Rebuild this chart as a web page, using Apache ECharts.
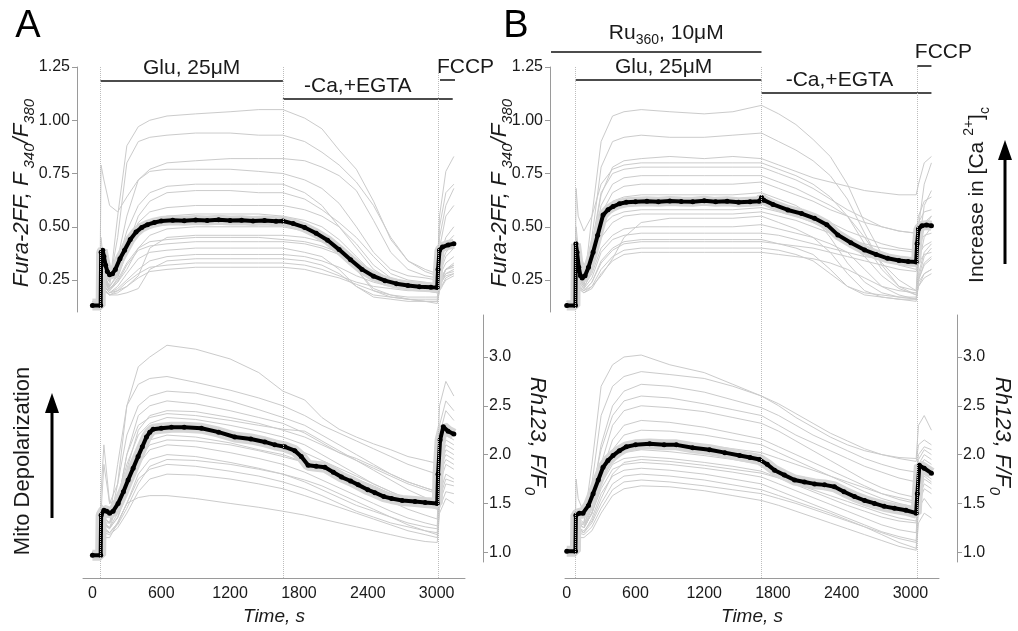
<!DOCTYPE html>
<html><head><meta charset="utf-8">
<script src="https://cdn.jsdelivr.net/npm/echarts@6/dist/echarts.min.js"></script>
<style>html,body{margin:0;padding:0;background:#fff}#c{width:1018px;height:631px}</style>
</head><body><div id="c"></div>
<script>
// ---------------- DATA ----------------
const xTicks = [0, 600, 1200, 1800, 2400, 3000];
const furaTicks = [0.25, 0.5, 0.75, 1.0, 1.25];
const rhTicks = [1.0, 1.5, 2.0, 2.5, 3.0];

// event times (s)
const eventsA = [70, 1660, 3014];
const eventsB = [78, 1700, 3060];

// time points for individual cell traces
const timeCellsA = [0,65,75,100,150, 220,300,400,500,650, 900,1200,1450,1660,1850, 2000,2150,2300,2450,2600, 2750,2900,3005,3025,3080, 3150];
const timeCellsB = [0,72,82,100,150, 220,300,400,500,650, 900,1200,1450,1700,1850, 2000,2150,2300,2450,2600, 2750,2900,3050,3070,3120, 3183];

// Panel A, Fura-2FF individual cells
const furaCellsA = [
 [0.14,0.14,0.30,0.26,0.22, 0.55,0.88,0.97,1.00,1.02, 1.03,1.04,1.05,1.05,1.01, 0.96,0.86,0.77,0.62,0.44, 0.34,0.30,0.28,0.55,0.76, 0.83],
 [0.15,0.15,0.35,0.28,0.24, 0.45,0.80,0.90,0.92,0.93, 0.94,0.94,0.93,0.93,0.90, 0.85,0.79,0.71,0.60,0.45, 0.34,0.29,0.27,0.50,0.66, 0.70],
 [0.14,0.14,0.32,0.27,0.25, 0.35,0.55,0.72,0.77,0.80, 0.81,0.82,0.82,0.82,0.81, 0.78,0.74,0.67,0.53,0.38, 0.30,0.27,0.26,0.45,0.60, 0.68],
 [0.16,0.16,0.79,0.72,0.60, 0.57,0.64,0.72,0.76,0.77, 0.77,0.77,0.76,0.75,0.72, 0.68,0.61,0.50,0.38,0.30, 0.27,0.26,0.25,0.40,0.55, 0.60],
 [0.14,0.14,0.40,0.30,0.25, 0.33,0.48,0.60,0.66,0.69, 0.70,0.70,0.70,0.70,0.66, 0.60,0.50,0.40,0.30,0.25, 0.23,0.22,0.22,0.35,0.45, 0.50],
 [0.15,0.15,0.45,0.32,0.26, 0.30,0.40,0.55,0.62,0.66, 0.67,0.67,0.66,0.66,0.63, 0.58,0.52,0.45,0.36,0.28, 0.25,0.24,0.23,0.32,0.42, 0.46],
 [0.14,0.14,0.38,0.28,0.22, 0.28,0.40,0.52,0.57,0.59, 0.60,0.60,0.60,0.60,0.58, 0.55,0.50,0.42,0.32,0.26, 0.24,0.23,0.22,0.30,0.38, 0.42],
 [0.13,0.13,0.30,0.25,0.20, 0.26,0.38,0.48,0.53,0.55, 0.56,0.56,0.56,0.55,0.53, 0.50,0.44,0.36,0.28,0.24, 0.23,0.22,0.21,0.28,0.36, 0.40],
 [0.14,0.14,0.33,0.26,0.21, 0.24,0.30,0.40,0.46,0.49, 0.50,0.50,0.50,0.50,0.48, 0.45,0.40,0.34,0.28,0.25, 0.24,0.23,0.22,0.27,0.33, 0.36],
 [0.15,0.15,0.25,0.22,0.19, 0.20,0.22,0.27,0.40,0.45, 0.46,0.46,0.46,0.46,0.45, 0.43,0.40,0.30,0.20,0.17, 0.16,0.16,0.16,0.22,0.30, 0.32],
 [0.13,0.13,0.28,0.24,0.20, 0.24,0.32,0.39,0.41,0.42, 0.43,0.43,0.43,0.43,0.42, 0.40,0.37,0.32,0.27,0.24, 0.22,0.21,0.20,0.25,0.30, 0.32],
 [0.14,0.14,0.30,0.23,0.19, 0.22,0.28,0.35,0.38,0.39, 0.40,0.40,0.40,0.40,0.38, 0.36,0.30,0.22,0.17,0.16, 0.15,0.15,0.15,0.22,0.28, 0.30],
 [0.13,0.13,0.26,0.22,0.19, 0.21,0.25,0.30,0.34,0.36, 0.37,0.37,0.37,0.37,0.36, 0.34,0.31,0.27,0.24,0.22, 0.21,0.21,0.20,0.24,0.28, 0.29],
 [0.15,0.15,0.22,0.20,0.18, 0.18,0.19,0.21,0.30,0.34, 0.35,0.35,0.35,0.35,0.34, 0.32,0.28,0.22,0.18,0.17, 0.16,0.15,0.15,0.20,0.26, 0.28],
 [0.13,0.13,0.25,0.21,0.18, 0.20,0.24,0.28,0.31,0.32, 0.33,0.33,0.33,0.33,0.32, 0.30,0.27,0.24,0.22,0.21, 0.20,0.20,0.19,0.23,0.27, 0.28],
 [0.14,0.14,0.24,0.20,0.18, 0.19,0.22,0.26,0.29,0.30, 0.31,0.31,0.31,0.31,0.30, 0.28,0.26,0.23,0.20,0.18, 0.16,0.15,0.14,0.20,0.25, 0.27],
 [0.14,0.14,0.36,0.27,0.22, 0.27,0.38,0.47,0.50,0.51, 0.52,0.52,0.52,0.52,0.50, 0.47,0.41,0.30,0.21,0.18, 0.17,0.17,0.17,0.24,0.30, 0.33],
 [0.14,0.14,0.30,0.25,0.21, 0.25,0.33,0.40,0.43,0.44, 0.45,0.45,0.45,0.44,0.43, 0.41,0.38,0.33,0.27,0.23, 0.21,0.20,0.19,0.24,0.30, 0.31]
];

// Panel B, Fura-2FF individual cells
const furaCellsB = [
 [0.14,0.14,0.30,0.26,0.22, 0.55,0.90,1.02,1.04,1.05, 1.04,1.03,1.04,1.07,1.03, 0.98,0.91,0.83,0.70,0.52, 0.37,0.32,0.30,0.50,0.70, 0.80],
 [0.15,0.15,0.35,0.28,0.23, 0.45,0.78,0.90,0.92,0.93, 0.92,0.92,0.93,0.94,0.90, 0.86,0.81,0.74,0.63,0.47, 0.32,0.22,0.20,0.40,0.60, 0.67],
 [0.14,0.14,0.40,0.32,0.28, 0.40,0.65,0.78,0.81,0.82, 0.83,0.82,0.83,0.82,0.79, 0.76,0.73,0.71,0.69,0.67, 0.66,0.65,0.65,0.70,0.80, 0.83],
 [0.15,0.15,0.68,0.55,0.48, 0.55,0.70,0.77,0.79,0.80, 0.80,0.80,0.80,0.80,0.77, 0.74,0.70,0.64,0.55,0.42, 0.30,0.22,0.18,0.35,0.50, 0.55],
 [0.14,0.14,0.36,0.28,0.24, 0.42,0.66,0.75,0.77,0.78, 0.78,0.78,0.78,0.78,0.75, 0.72,0.68,0.63,0.58,0.54, 0.50,0.48,0.47,0.55,0.62, 0.64],
 [0.13,0.13,0.33,0.26,0.23, 0.38,0.60,0.70,0.73,0.74, 0.74,0.74,0.74,0.74,0.71, 0.68,0.64,0.60,0.55,0.45, 0.33,0.25,0.20,0.32,0.45, 0.50],
 [0.14,0.14,0.38,0.29,0.24, 0.36,0.56,0.66,0.69,0.70, 0.70,0.70,0.70,0.71,0.68, 0.65,0.62,0.58,0.55,0.52, 0.50,0.48,0.47,0.52,0.57, 0.58],
 [0.14,0.14,0.50,0.40,0.32, 0.38,0.50,0.55,0.57,0.58, 0.58,0.58,0.58,0.59,0.57, 0.55,0.52,0.48,0.43,0.36, 0.27,0.21,0.18,0.28,0.38, 0.42],
 [0.13,0.13,0.30,0.25,0.21, 0.30,0.45,0.52,0.55,0.56, 0.56,0.56,0.56,0.57,0.55, 0.53,0.50,0.47,0.44,0.42, 0.40,0.39,0.38,0.42,0.46, 0.47],
 [0.15,0.15,0.25,0.22,0.20, 0.22,0.27,0.35,0.45,0.52, 0.54,0.54,0.54,0.55,0.52, 0.49,0.45,0.38,0.28,0.20, 0.17,0.16,0.15,0.25,0.33, 0.36],
 [0.14,0.14,0.32,0.26,0.22, 0.28,0.40,0.46,0.49,0.50, 0.50,0.50,0.50,0.51,0.49, 0.47,0.45,0.42,0.38,0.30, 0.22,0.18,0.16,0.25,0.32, 0.35],
 [0.13,0.13,0.30,0.24,0.21, 0.26,0.38,0.44,0.46,0.47, 0.47,0.47,0.47,0.47,0.46, 0.44,0.42,0.40,0.38,0.36, 0.35,0.34,0.33,0.37,0.41, 0.43],
 [0.14,0.14,0.28,0.23,0.20, 0.24,0.34,0.40,0.43,0.44, 0.44,0.44,0.44,0.44,0.42, 0.40,0.37,0.30,0.22,0.18, 0.17,0.16,0.16,0.22,0.28, 0.30],
 [0.13,0.13,0.27,0.22,0.20, 0.24,0.33,0.39,0.42,0.43, 0.43,0.43,0.43,0.43,0.42, 0.41,0.40,0.38,0.36,0.34, 0.32,0.30,0.29,0.33,0.37, 0.38],
 [0.14,0.14,0.26,0.22,0.19, 0.22,0.30,0.36,0.39,0.40, 0.40,0.40,0.40,0.40,0.39, 0.37,0.34,0.28,0.22,0.19, 0.18,0.17,0.17,0.22,0.26, 0.28],
 [0.13,0.13,0.25,0.21,0.19, 0.21,0.28,0.34,0.37,0.38, 0.38,0.38,0.38,0.38,0.37, 0.36,0.35,0.33,0.30,0.26, 0.22,0.20,0.19,0.24,0.28, 0.30],
 [0.14,0.14,0.34,0.27,0.23, 0.33,0.52,0.59,0.61,0.62, 0.62,0.62,0.62,0.63,0.60, 0.58,0.55,0.52,0.48,0.45, 0.42,0.40,0.39,0.45,0.52, 0.55],
 [0.14,0.14,0.45,0.36,0.29, 0.36,0.55,0.62,0.64,0.65, 0.65,0.65,0.65,0.66,0.63, 0.60,0.55,0.45,0.33,0.24, 0.19,0.17,0.16,0.26,0.36, 0.40]
];

// Panel A, Rh123 individual cells
const rhCellsA = [
 [1.00,1.00,1.30,1.35,1.30, 1.70,2.50,2.90,3.00,3.12, 3.08,2.98,2.84,2.65,2.56, 2.38,2.26,2.18,2.11,2.05, 1.98,1.94,1.91,2.50,2.75, 2.60],
 [1.00,1.00,1.50,1.45,1.35, 1.90,2.50,2.72,2.78,2.80, 2.74,2.66,2.58,2.50,2.40, 2.30,2.22,2.14,2.06,1.98, 1.90,1.84,1.80,2.30,2.55, 2.45],
 [1.00,1.00,1.60,2.10,1.50, 1.70,2.20,2.50,2.60,2.65, 2.63,2.55,2.46,2.38,2.30, 2.20,2.10,2.00,1.90,1.80, 1.72,1.66,1.62,2.20,2.45, 2.35],
 [1.00,1.00,1.30,1.30,1.25, 1.50,2.00,2.40,2.50,2.55, 2.52,2.45,2.38,2.32,2.22, 2.12,2.02,1.94,1.86,1.78, 1.70,1.64,1.60,2.10,2.30, 2.25],
 [1.00,1.00,1.35,1.35,1.30, 1.45,1.85,2.25,2.40,2.45, 2.44,2.38,2.32,2.25,2.18, 2.10,2.02,1.96,1.88,1.80, 1.72,1.66,1.62,2.00,2.20, 2.15],
 [1.00,1.00,1.40,1.90,1.50, 1.55,1.90,2.20,2.32,2.38, 2.36,2.30,2.24,2.18,2.10, 2.00,1.90,1.80,1.70,1.62, 1.55,1.50,1.46,1.90,2.10, 2.05],
 [1.00,1.00,1.30,1.30,1.25, 1.40,1.75,2.10,2.25,2.30, 2.28,2.22,2.16,2.10,2.02, 1.94,1.86,1.78,1.70,1.62, 1.54,1.48,1.44,1.85,2.05, 2.00],
 [1.00,1.00,1.30,1.35,1.30, 1.45,1.80,2.05,2.15,2.20, 2.18,2.12,2.05,2.00,1.92, 1.84,1.76,1.68,1.60,1.52, 1.44,1.38,1.34,1.80,1.95, 1.90],
 [1.00,1.00,1.30,1.30,1.25, 1.35,1.60,1.90,2.05,2.10, 2.08,2.02,1.96,1.90,1.82, 1.74,1.66,1.58,1.50,1.42, 1.35,1.30,1.27,1.70,1.90, 1.85],
 [1.00,1.00,1.25,1.25,1.20, 1.30,1.50,1.80,1.95,2.00, 1.98,1.92,1.86,1.80,1.72, 1.64,1.56,1.48,1.42,1.36, 1.30,1.26,1.24,1.60,1.80, 1.75],
 [1.00,1.00,1.25,1.25,1.20, 1.30,1.50,1.75,1.85,1.90, 1.88,1.83,1.78,1.72,1.65, 1.58,1.50,1.42,1.36,1.30, 1.26,1.22,1.20,1.50,1.70, 1.68],
 [1.00,1.00,1.20,1.20,1.18, 1.25,1.40,1.62,1.75,1.80, 1.79,1.75,1.70,1.65,1.58, 1.52,1.46,1.40,1.34,1.28, 1.22,1.18,1.15,1.45,1.62, 1.60],
 [1.00,1.00,1.15,1.15,1.15, 1.30,1.50,1.56,1.58,1.58, 1.55,1.50,1.46,1.42,1.38, 1.34,1.30,1.26,1.22,1.18, 1.14,1.11,1.10,1.40,1.55, 1.50],
 [1.00,1.00,1.30,1.30,1.30, 1.50,2.00,2.30,2.38,2.42, 2.40,2.35,2.30,2.26,2.24, 2.14,2.04,1.94,1.84,1.74, 1.64,1.56,1.50,1.95,2.15, 2.10],
 [1.00,1.00,1.28,1.28,1.24, 1.36,1.65,1.95,2.10,2.15, 2.14,2.10,2.04,1.98,1.92, 1.88,1.82,1.75,1.68,1.60, 1.53,1.48,1.45,1.85,2.00, 1.95],
 [1.00,1.00,1.22,1.22,1.20, 1.28,1.45,1.70,1.88,1.95, 1.94,1.90,1.85,1.80,1.74, 1.68,1.60,1.52,1.44,1.36, 1.28,1.22,1.18,1.55,1.75, 1.72]
];

// Panel B, Rh123 individual cells
const rhCellsB = [
 [1.00,1.00,1.20,1.25,1.30, 1.90,2.70,2.92,3.00,3.02, 2.92,2.84,2.72,2.60,2.50, 2.38,2.28,2.18,2.10,2.04, 2.00,1.97,1.96,2.30,2.40, 2.25],
 [1.00,1.00,1.30,1.30,1.30, 1.70,2.40,2.70,2.80,2.85, 2.82,2.78,2.70,2.60,2.52, 2.42,2.32,2.22,2.14,2.06, 2.00,1.96,1.93,2.10,2.15, 2.10],
 [1.00,1.00,1.25,1.30,1.25, 1.55,2.10,2.50,2.65,2.72, 2.70,2.64,2.56,2.48,2.40, 2.30,2.20,2.12,2.04,1.96, 1.90,1.85,1.82,2.00,2.08, 2.05],
 [1.00,1.00,1.75,1.55,1.40, 1.60,2.05,2.40,2.55,2.60, 2.58,2.52,2.46,2.40,2.30, 2.20,2.12,2.04,1.96,1.88, 1.82,1.76,1.72,1.95,2.05, 2.00],
 [1.00,1.00,1.30,1.30,1.25, 1.45,1.90,2.30,2.45,2.50, 2.48,2.44,2.38,2.32,2.24, 2.14,2.04,1.94,1.84,1.74, 1.66,1.60,1.56,1.90,2.00, 1.95],
 [1.00,1.00,1.30,1.30,1.25, 1.40,1.80,2.15,2.30,2.35, 2.33,2.28,2.22,2.16,2.08, 2.00,1.92,1.84,1.76,1.68, 1.60,1.54,1.50,1.85,1.95, 1.90],
 [1.00,1.00,1.30,1.30,1.25, 1.40,1.75,2.05,2.20,2.25, 2.24,2.20,2.15,2.10,2.02, 1.94,1.86,1.78,1.70,1.62, 1.55,1.50,1.46,1.80,1.90, 1.85],
 [1.00,1.00,1.30,1.35,1.30, 1.45,1.70,1.90,1.96,1.98, 1.96,1.92,1.88,1.83,1.76, 1.69,1.62,1.55,1.48,1.42, 1.36,1.32,1.30,1.70,1.80, 1.75],
 [1.00,1.00,1.25,1.30,1.25, 1.40,1.65,1.85,1.90,1.92, 1.90,1.86,1.82,1.77,1.70, 1.63,1.56,1.49,1.42,1.35, 1.28,1.23,1.20,1.60,1.75, 1.70],
 [1.00,1.00,1.25,1.25,1.20, 1.35,1.60,1.78,1.84,1.86, 1.84,1.80,1.75,1.70,1.63, 1.56,1.49,1.42,1.35,1.28, 1.21,1.16,1.12,1.55,1.70, 1.65],
 [1.00,1.00,1.20,1.22,1.20, 1.30,1.50,1.70,1.78,1.80, 1.78,1.74,1.69,1.64,1.58, 1.52,1.46,1.40,1.33,1.26, 1.18,1.10,1.04,1.50,1.65, 1.60],
 [1.00,1.00,1.20,1.20,1.18, 1.26,1.45,1.64,1.72,1.74, 1.72,1.68,1.64,1.60,1.55, 1.50,1.44,1.38,1.32,1.26, 1.20,1.14,1.10,1.45,1.55, 1.45],
 [1.00,1.00,1.15,1.15,1.15, 1.22,1.40,1.58,1.65,1.68, 1.67,1.63,1.58,1.53,1.48, 1.42,1.36,1.30,1.24,1.18, 1.12,1.06,1.02,1.30,1.40, 1.35],
 [1.00,1.00,1.30,1.30,1.25, 1.40,1.70,1.95,2.02,2.05, 2.03,1.99,1.95,1.90,1.84, 1.78,1.72,1.66,1.60,1.54, 1.48,1.44,1.40,1.75,1.85, 1.80],
 [1.00,1.00,1.30,1.30,1.28, 1.40,1.70,2.00,2.10,2.15, 2.14,2.10,2.06,2.02,1.96, 1.90,1.84,1.78,1.72,1.66, 1.60,1.56,1.52,1.80,1.90, 1.85],
 [1.00,1.00,1.25,1.25,1.22, 1.32,1.55,1.80,1.92,1.95, 1.93,1.89,1.85,1.81,1.76, 1.70,1.64,1.58,1.52,1.46, 1.40,1.35,1.32,1.65,1.78, 1.72]
];

// mean traces
const timeMeanFuraA = [0,72,76,90,100,115,130,150,175,200, 240,280,330,380,430,480,540,600,700,800, 900,1000,1100,1200,1300,1400,1500,1600,1660,1750, 1850,1950,2050,2150,2250,2350,2450,2550,2650,2750, 2850,2950,3005,3012,3025,3050,3100,3150];
const meanFuraA = [0.13,0.13,0.38,0.39,0.36,0.32,0.29,0.275,0.28,0.30, 0.35,0.39,0.44,0.475,0.497,0.51,0.52,0.527,0.531,0.528, 0.532,0.530,0.533,0.529,0.531,0.527,0.530,0.526,0.527,0.515, 0.497,0.47,0.437,0.393,0.345,0.30,0.268,0.247,0.233,0.224, 0.219,0.216,0.215,0.30,0.39,0.405,0.415,0.42];

const timeMeanFuraB = [0,76,80,90,105,120,135,160,190,230, 270,317,360,404,460,520,600,700,800,900, 1000,1100,1200,1300,1400,1500,1600,1680,1700,1720, 1800,1930,2050,2163,2270,2366,2480,2600,2700,2800, 2900,2980,3050,3058,3070,3100,3140,3183];
const meanFuraB = [0.13,0.13,0.42,0.38,0.31,0.27,0.26,0.27,0.31,0.38, 0.46,0.555,0.58,0.595,0.608,0.615,0.618,0.620,0.617,0.621, 0.619,0.618,0.622,0.617,0.620,0.615,0.618,0.62,0.637,0.625, 0.605,0.579,0.562,0.540,0.510,0.462,0.425,0.391,0.370,0.352, 0.342,0.337,0.335,0.42,0.49,0.505,0.508,0.505];

const timeMeanRhA = [0,72,76,100,125,150,180,224,270,311, 355,398,435,471,500,529,600,689,800,950, 1100,1241,1380,1503,1590,1677,1764,1820,1880,1950, 2026,2100,2171,2250,2317,2400,2462,2540,2607,2700, 2811,2900,3005,3012,3030,3058,3100,3150];
const meanRhA = [0.97,0.97,1.38,1.43,1.42,1.40,1.42,1.50,1.62,1.74, 1.86,1.98,2.08,2.18,2.23,2.26,2.27,2.28,2.28,2.27, 2.23,2.18,2.16,2.13,2.10,2.08,2.04,1.98,1.89,1.88, 1.87,1.82,1.77,1.73,1.69,1.64,1.61,1.57,1.55,1.53, 1.52,1.51,1.50,1.80,2.15,2.285,2.24,2.21];

const timeMeanRhB = [0,76,80,110,142,190,230,275,317,360, 404,460,520,600,724,850,957,1100,1247,1380, 1509,1600,1683,1750,1814,1900,1988,2075,2163,2250, 2337,2420,2512,2600,2686,2770,2860,2960,3050,3060, 3078,3120,3183];
const meanRhB = [1.01,1.01,1.38,1.40,1.40,1.48,1.60,1.74,1.87,1.94, 1.99,2.04,2.08,2.10,2.11,2.10,2.10,2.07,2.05,2.02, 1.99,1.97,1.95,1.90,1.84,1.79,1.74,1.72,1.70,1.69, 1.67,1.62,1.57,1.53,1.50,1.47,1.45,1.43,1.40,1.60, 1.89,1.86,1.81];

// annotation bars (times in s)
const annA = [
  {text:'Glu, 25μM', from:70, to:1660, barY:81, textY:68, dx:0},
  {text:'-Ca,+EGTA', from:1660, to:3140, barY:99, textY:86, dx:-10},
  {text:'FCCP', from:3029, to:3160, barY:80, textY:67, dx:18}
];
const annB = [
  {text:'Ru{sub|360}, 10μM', from:-137, to:1700, barY:52, textY:33, dx:10},
  {text:'Glu, 25μM', from:78, to:1700, barY:80, textY:67, dx:-5},
  {text:'-Ca,+EGTA', from:1700, to:3183, barY:93, textY:80, dx:-7},
  {text:'FCCP', from:3060, to:3183, barY:66, textY:52, dx:19}
];

// ---------------- CHART ----------------
const FONT = '"Liberation Sans", Arial, Helvetica, sans-serif';
const AXC = '#9a9a9a';
const TXC = '#1a1a1a';
const chart = echarts.init(document.getElementById('c'), null, {renderer:'canvas'});
const pairs = (ts, vs) => ts.map((t, i) => [t, vs[i]]);

const gridBase = {containLabel:false, outerBoundsMode:'none'};
const grids = [
  Object.assign({left:83, top:67, width:382, height:245}, gridBase),
  Object.assign({left:83, top:315, width:382, height:247}, gridBase),
  Object.assign({left:565, top:67, width:374, height:245}, gridBase),
  Object.assign({left:565, top:315, width:374, height:247}, gridBase),
  Object.assign({left:83, top:67, width:382, height:511}, gridBase),
  Object.assign({left:565, top:67, width:374, height:511}, gridBase)
];

const rangeA = {min:-82, max:3247};
const rangeB = {min:-15, max:3249};

function hiddenX(gi, r){ return {type:'value', gridIndex:gi, min:r.min, max:r.max, show:false}; }
function timeX(gi, r){
  return {type:'value', gridIndex:gi, min:r.min, max:r.max, offset:16,
    axisLine:{show:true, onZero:false, lineStyle:{color:AXC, width:1}},
    axisTick:{show:false}, splitLine:{show:false},
    axisLabel:{customValues:xTicks, formatter:v=>String(v), fontSize:16, color:TXC, margin:8, fontFamily:FONT},
    name:'Time, s', nameLocation:'middle', nameGap:29,
    nameTextStyle:{fontStyle:'italic', fontSize:19, color:TXC, fontFamily:FONT}};
}
function furaY(gi, off){
  return {type:'value', gridIndex:gi, position:'left', offset:off, min:0.1, max:1.25,
    axisLine:{show:true, onZero:false, lineStyle:{color:AXC}},
    axisTick:{show:true, customValues:furaTicks, length:5, lineStyle:{color:AXC}},
    axisLabel:{customValues:furaTicks, formatter:v=>v.toFixed(2), fontSize:16, color:TXC, margin:7, fontFamily:FONT},
    splitLine:{show:false}};
}
function rhY(gi, off){
  return {type:'value', gridIndex:gi, position:'right', offset:off, min:0.9, max:3.43,
    axisLine:{show:true, onZero:false, lineStyle:{color:AXC}},
    axisTick:{show:true, customValues:rhTicks, length:5, lineStyle:{color:AXC}},
    axisLabel:{customValues:rhTicks, formatter:v=>v.toFixed(1), fontSize:16, color:TXC, margin:6, fontFamily:FONT},
    splitLine:{show:false}};
}

const series = [];
function addPanel(axisIdx, times, cells, mT, mV, bandW){
  cells.forEach(c => series.push({type:'line', xAxisIndex:axisIdx, yAxisIndex:axisIdx, data:pairs(times, c),
    showSymbol:false, silent:true, z:2, lineStyle:{color:'#cbcbcb', width:1}}));
  series.push({type:'line', xAxisIndex:axisIdx, yAxisIndex:axisIdx, data:pairs(mT, mV), showSymbol:false, silent:true, z:3,
    lineStyle:{color:'#d6d6d6', width:bandW}});
  series.push({type:'line', xAxisIndex:axisIdx, yAxisIndex:axisIdx, data:pairs(mT, mV), symbol:'circle', symbolSize:5, silent:true, z:4,
    itemStyle:{color:'#000'}, lineStyle:{color:'#000', width:4}});
}
addPanel(0, timeCellsA, furaCellsA, timeMeanFuraA, meanFuraA, 10);
addPanel(1, timeCellsA, rhCellsA, timeMeanRhA, meanRhA, 11);
addPanel(2, timeCellsB, furaCellsB, timeMeanFuraB, meanFuraB, 10);
addPanel(3, timeCellsB, rhCellsB, timeMeanRhB, meanRhB, 11);

function eventLines(axisIdx, evs){
  series.push({type:'line', xAxisIndex:axisIdx, yAxisIndex:axisIdx, data:[[evs[0], -1]], symbol:'none', silent:true, z:1,
    lineStyle:{opacity:0},
    markLine:{silent:true, symbol:['none','none'], label:{show:false}, animation:false,
      lineStyle:{type:'dotted', color:'#bdbdbd', width:1}, data:evs.map(t => ({xAxis:t}))}});
}
eventLines(4, eventsA);
eventLines(5, eventsB);

chart.setOption({
  animation:false,
  backgroundColor:'#fff',
  grid:grids,
  xAxis:[hiddenX(0, rangeA), timeX(1, rangeA), hiddenX(2, rangeB), timeX(3, rangeB), hiddenX(4, rangeA), hiddenX(5, rangeB)],
  yAxis:[furaY(0, 6), rhY(1, 18), furaY(2, 15), rhY(3, 18),
    {type:'value', gridIndex:4, min:0, max:1, show:false}, {type:'value', gridIndex:5, min:0, max:1, show:false}],
  series:series
});

// ---------- annotations (positions from the time axis) ----------
const gr = [];
const subRich = {sub:{fontSize:14, fontFamily:FONT, fill:TXC, verticalAlign:'bottom', lineHeight:28}};
function addAnn(list, axisIdx){
  list.forEach(a => {
    const x1 = chart.convertToPixel({xAxisIndex:axisIdx}, a.from);
    const x2 = chart.convertToPixel({xAxisIndex:axisIdx}, a.to);
    gr.push({type:'line', silent:true, shape:{x1:x1, y1:a.barY, x2:x2, y2:a.barY}, style:{stroke:'#111', lineWidth:1.5}});
    gr.push({type:'text', silent:true, x:(x1 + x2) / 2 + a.dx, y:a.textY,
      style:{text:a.text, fontSize:21, fontFamily:FONT, fill:TXC, align:'center', verticalAlign:'middle', lineHeight:28, rich:subRich}});
  });
}
addAnn(annA, 1);
addAnn(annB, 3);

function label(x, y, rot, text, rich, fs){
  gr.push({type:'text', silent:true, x:x, y:y, rotation:rot,
    style:{text:text, fontSize:fs || 22, fontFamily:FONT, fill:TXC, align:'center', verticalAlign:'middle', lineHeight:30, rich:rich}});
}
const furaRich = {
  i:{fontStyle:'italic', fontSize:22, fontFamily:FONT, fill:TXC, lineHeight:30, verticalAlign:'middle'},
  s:{fontStyle:'italic', fontSize:15, fontFamily:FONT, fill:TXC, lineHeight:30, verticalAlign:'bottom'}
};
label(22, 193, Math.PI/2, '{i|Fura-2FF, F}{s| 340}{i|/F}{s|380}', furaRich);
label(500, 193, Math.PI/2, '{i|Fura-2FF, F}{s| 340}{i|/F}{s|380}', furaRich);
label(537, 436, -Math.PI/2, '{i|Rh123, F/F}{s|0}', furaRich);
label(1002, 436, -Math.PI/2, '{i|Rh123, F/F}{s|0}', furaRich);
label(23, 461, Math.PI/2, 'Mito Depolarization', null, 22);
label(977, 195, Math.PI/2, '{n|Increase in [Ca }{p|2+}{n|]}{s|c}', {
  n:{fontSize:21, fontFamily:FONT, fill:TXC, lineHeight:30, verticalAlign:'middle'},
  p:{fontSize:14, fontFamily:FONT, fill:TXC, lineHeight:30, verticalAlign:'top'},
  s:{fontSize:14, fontFamily:FONT, fill:TXC, lineHeight:30, verticalAlign:'bottom'}
});
// panel letters
gr.push({type:'text', silent:true, x:28, y:27, style:{text:'A', fontSize:38, fontFamily:FONT, fill:'#000', align:'center', verticalAlign:'middle'}});
gr.push({type:'text', silent:true, x:516, y:27, style:{text:'B', fontSize:38, fontFamily:FONT, fill:'#000', align:'center', verticalAlign:'middle'}});
// arrows
function arrow(x, yTip, yTail){
  gr.push({type:'line', silent:true, shape:{x1:x, y1:yTail, x2:x, y2:yTip + 16}, style:{stroke:'#000', lineWidth:3}});
  gr.push({type:'polygon', silent:true, shape:{points:[[x, yTip], [x - 7, yTip + 20], [x + 7, yTip + 20]]}, style:{fill:'#000'}});
}
arrow(52, 393, 518);
arrow(1005, 140, 264);

chart.setOption({graphic:gr});
</script>
</body></html>
